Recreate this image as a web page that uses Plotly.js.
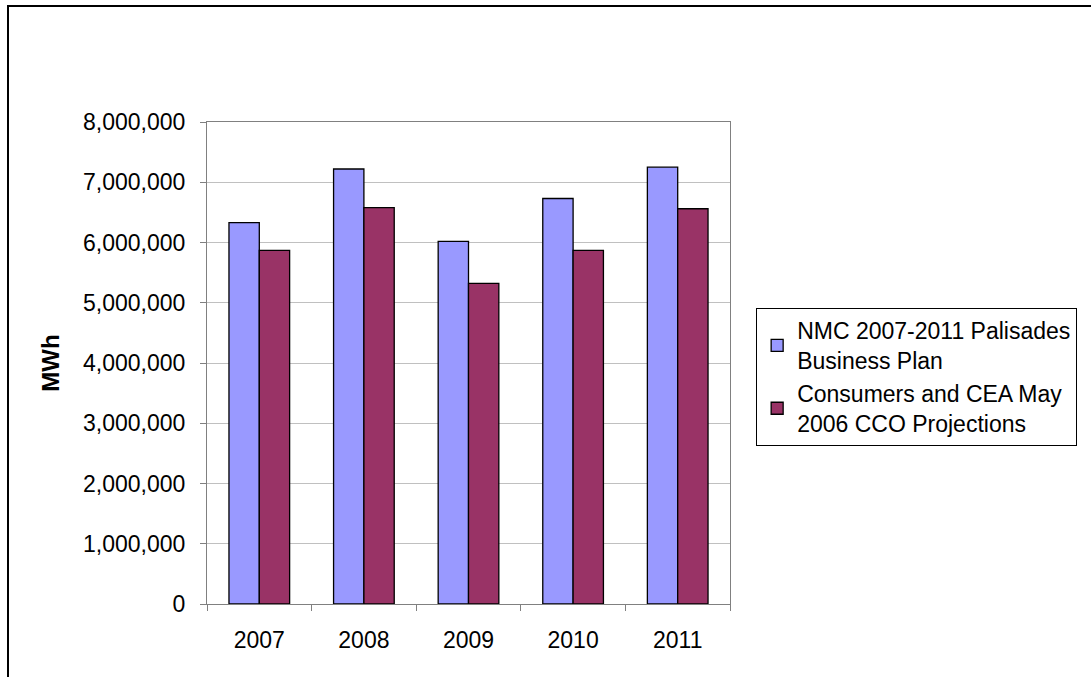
<!DOCTYPE html>
<html>
<head>
<meta charset="utf-8">
<script src="https://cdn.plot.ly/plotly-3.0.1.min.js"></script>
<style>
  html, body { margin: 0; padding: 0; background: #fff; }
  #wrap { position: relative; width: 1091px; height: 677px; overflow: hidden; }
  #chart { position: absolute; left: 0; top: 0; width: 1091px; height: 677px; }
  #frame { position: absolute; left: 7px; top: 5px; width: 1100px; height: 700px;
           border-left: 2px solid #000; border-top: 2px solid #000; pointer-events: none; }
</style>
</head>
<body>
<div id="wrap">
  <div id="chart"></div>
  <div id="frame"></div>
</div>
<script>
const years = ["2007", "2008", "2009", "2010", "2011"];
const nmcPlan = [6330000, 7220000, 6020000, 6730000, 7250000];
const ccoProjections = [5870000, 6580000, 5320000, 5870000, 6560000];
const seriesNames = ["NMC 2007-2011 Palisades<br>Business Plan", "Consumers and CEA May<br>2006 CCO Projections"];
const yTicks = [0, 1000000, 2000000, 3000000, 4000000, 5000000, 6000000, 7000000, 8000000];

const fam = "Liberation Sans, Arial, sans-serif";
const font = { family: fam, size: 23, color: "#000" };

const traces = [
  { type: "bar", x: years, y: nmcPlan, name: seriesNames[0],
    marker: { color: "#9999FF", line: { color: "#000", width: 1.3 } } },
  { type: "bar", x: years, y: ccoProjections, name: seriesNames[1],
    marker: { color: "#993366", line: { color: "#000", width: 1.3 } } }
];

const layout = {
  width: 1091, height: 677,
  margin: { l: 207, r: 361, t: 122, b: 73, pad: 0 },
  paper_bgcolor: "#fff", plot_bgcolor: "#fff",
  font: font,
  showlegend: true,
  barmode: "group",
  bargap: 0.42,
  bargroupgap: 0,
  separators: ".,",
  xaxis: {
    type: "category",
    showline: true, linecolor: "#808080", linewidth: 1, mirror: true,
    ticks: "outside", ticklen: 6, tickcolor: "#808080", tickson: "boundaries",
    ticklabelstandoff: 15,
    showgrid: false, zeroline: false,
    tickfont: font,
    fixedrange: true
  },
  yaxis: {
    range: [0, 8000000],
    tickvals: yTicks,
    tickformat: ",d",
    showline: true, linecolor: "#808080", linewidth: 1, mirror: true,
    ticks: "outside", ticklen: 6, tickcolor: "#808080",
    ticklabelstandoff: 10,
    showgrid: true, gridcolor: "#c0c0c0", gridwidth: 1,
    zeroline: false,
    tickfont: font,
    title: { text: "<b>MWh</b>", font: { family: fam, size: 24, color: "#000" }, standoff: 16 },
    fixedrange: true
  },
  legend: {
    x: 1.05, xanchor: "left",
    y: 0.614, yanchor: "top",
    bordercolor: "#000", borderwidth: 1,
    bgcolor: "#fff",
    font: { family: fam, size: 23, color: "#000" },
    traceorder: "normal",
    tracegroupgap: 4
  }
};

Plotly.newPlot("chart", traces, layout, { displayModeBar: false, staticPlot: true });
</script>
</body>
</html>
